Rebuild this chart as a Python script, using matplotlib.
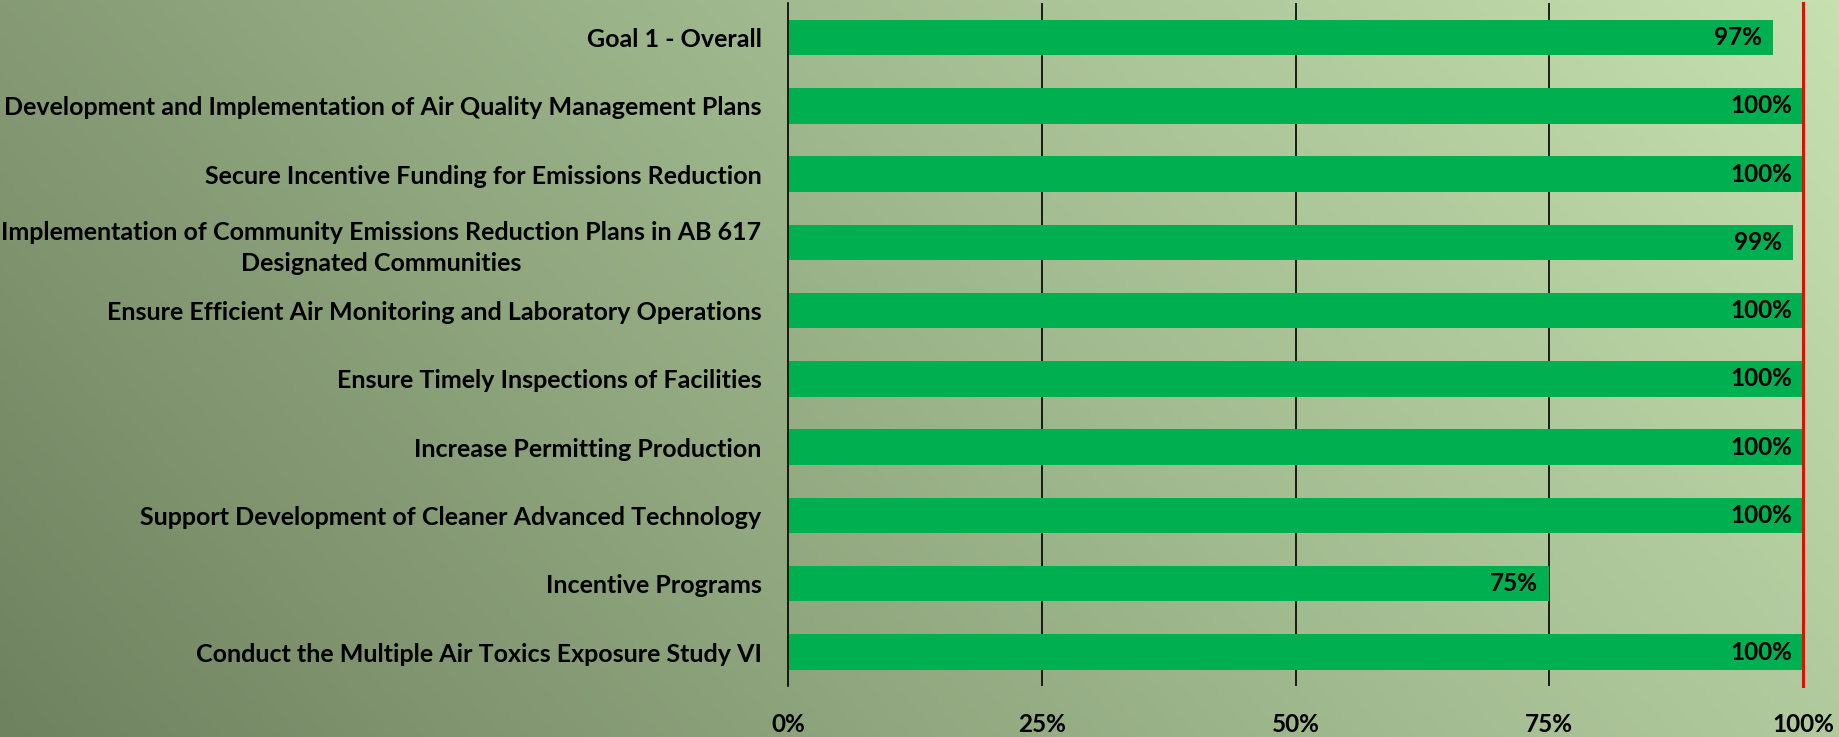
import numpy as np
import matplotlib.pyplot as plt
from matplotlib.colors import LinearSegmentedColormap

categories = [
    "Goal 1 - Overall",
    "Development and Implementation of Air Quality Management Plans",
    "Secure Incentive Funding for Emissions Reduction",
    "Implementation of Community Emissions Reduction Plans in AB 617\nDesignated Communities",
    "Ensure Efficient Air Monitoring and Laboratory Operations",
    "Ensure Timely Inspections of Facilities",
    "Increase Permitting Production",
    "Support Development of Cleaner Advanced Technology",
    "Incentive Programs",
    "Conduct the Multiple Air Toxics Exposure Study VI",
]
values = [97, 100, 100, 99, 100, 100, 100, 100, 75, 100]
tick_vals = [0, 25, 50, 75, 100]
tick_labels = ["0%", "25%", "50%", "75%", "100%"]

plt.rcParams['font.family'] = ['Lato', 'DejaVu Sans']
plt.rcParams['font.weight'] = 'bold'

fig = plt.figure(figsize=(18.39, 7.37), dpi=100)

# diagonal background gradient
bg = fig.add_axes([0, 0, 1, 1], zorder=-10)
gx, gy = np.meshgrid(np.linspace(0, 1, 400), np.linspace(0, 1, 200))
grad = 0.75 * gx + 0.25 * gy
cmap = LinearSegmentedColormap.from_list("bg", ["#6f8260", "#9cb48a", "#c6e0b0"])
bg.imshow(grad, cmap=cmap, origin='lower', aspect='auto', extent=[0, 1, 0, 1])
bg.axis('off')

ax = fig.add_axes([0.4285, 0.069, 0.552, 0.9263])
ax.patch.set_alpha(0)
y = np.arange(len(categories))
ax.barh(y, values, height=0.52, color='#00B050', zorder=2)
ax.set_ylim(len(categories) - 0.5, -0.5)
ax.set_xlim(0, 100)

for v in [25, 50, 75]:
    ax.axvline(v, color='black', lw=1.2, zorder=1)
ax.axvline(100, color='#ff0000', lw=2.2, zorder=3, clip_on=False)

for yi, v in zip(y, values):
    ax.annotate(f"{v}%", xy=(v, yi), xytext=(-8, 0), textcoords='offset points',
                ha='right', va='center', fontsize=17.5, fontweight='bold', color='black', zorder=4)

ax.set_yticks(y)
ax.set_yticklabels(categories, fontsize=18, fontweight='bold', multialignment='center',
                   linespacing=1.4)
ax.set_xticks(tick_vals)
ax.set_xticklabels(tick_labels, fontsize=17.5, fontweight='bold')
ax.tick_params(axis='y', length=0, pad=19)
ax.tick_params(axis='x', length=0, pad=19)

for s in ['top', 'right', 'bottom']:
    ax.spines[s].set_visible(False)
ax.spines['left'].set_color('black')
ax.spines['left'].set_linewidth(1.2)

fig.savefig('out.png', dpi=100)
